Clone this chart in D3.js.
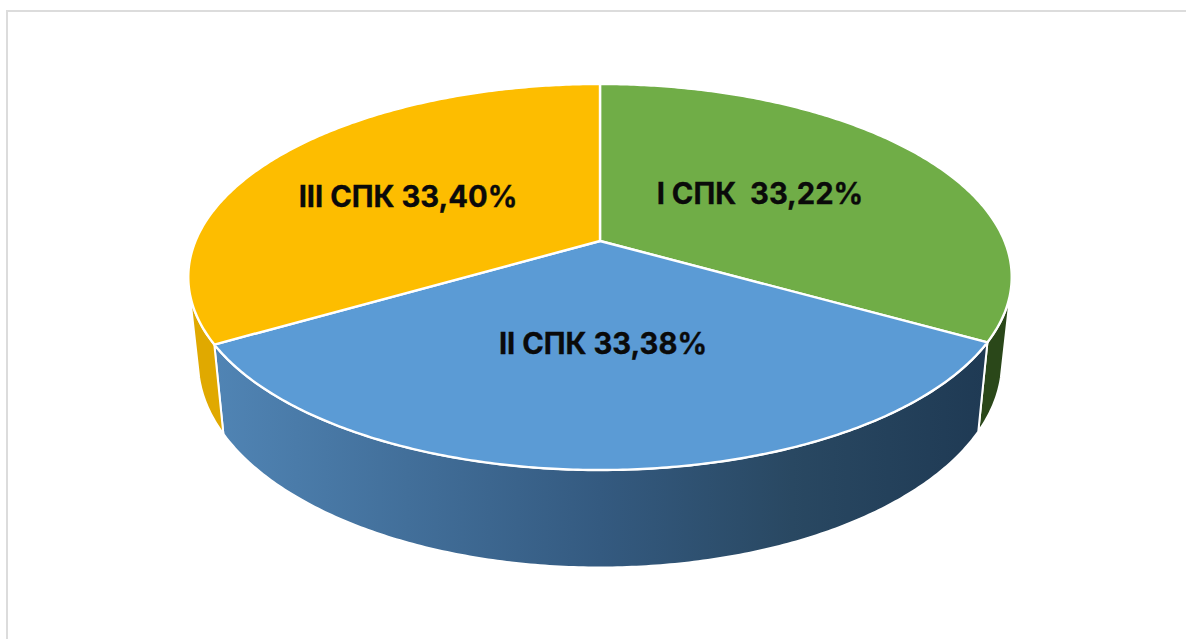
<!DOCTYPE html>
<html>
<head>
<meta charset="utf-8">
<script src="https://cdn.jsdelivr.net/npm/d3@7"></script>
<style>
html,body{margin:0;padding:0;background:#fff;overflow:hidden}
svg{display:block}
text{font-family:"Inter","Open Sans",sans-serif;font-weight:700;fill:#0a0a0a;stroke:#0a0a0a;stroke-width:0.35px}
</style>
</head>
<body>
<svg id="c" width="1186" height="639"></svg>
<script>
const categories = ["I СПК ", "II СПК", "III СПК"];
const values = [33.22, 33.38, 33.40];
const topColors = ["#70ad47", "#5b9bd5", "#fdbd00"];
const sideColors = ["#2a4719", "url(#blueSide)", "#e0a900"];
const labelCentres = [[760, 193], [603, 343], [408, 196]];

const W = 1186, H = 639;
const svg = d3.select("#c");

// Perspective projection of the pie disc (fitted to the picture)
const persp = 0.1865;
const cx = 600;
const topDisc = {y0: 241, sx: 404.5, sy: 186.3};
const botDisc = {y0: 323.5, sx: 395, sy: 198.5};
const project = (disc, a) => {
  const u = Math.sin(a), v = -Math.cos(a), w = 1 - persp * v;
  return [cx + disc.sx * u / w, disc.y0 + disc.sy * v / w];
};
const arcPts = (disc, a0, a1) => {
  const n = Math.max(2, Math.ceil(Math.abs(a1 - a0) / 0.01));
  const s = d3.scaleLinear().domain([0, n]).range([a0, a1]);
  return d3.range(n + 1).map(i => project(disc, s(i)));
};
const line = d3.line();

const pie = d3.pie().value(d => d).sort(null)(values);
// the side wall is visible between these angles (clockwise from the top)
const visible = [105 * Math.PI / 180, 255 * Math.PI / 180];

const defs = svg.append("defs");
const grad = defs.append("linearGradient").attr("id", "blueSide")
  .attr("gradientUnits", "userSpaceOnUse")
  .attr("x1", 215).attr("x2", 985).attr("y1", 0).attr("y2", 0);
[[0, "#5084b4"], [0.25, "#426f9a"], [0.5, "#345a80"], [0.75, "#294862"], [1, "#1f3a54"]]
  .forEach(([o, c]) => grad.append("stop").attr("offset", o).attr("stop-color", c));

// frame
svg.append("path").attr("d", `M7,${H}V11H${W}`).attr("fill", "none")
  .attr("stroke", "#dcdcdc").attr("stroke-width", 2);

// side walls
svg.append("g").selectAll("path").data(pie).join("path")
  .attr("d", d => {
    const a0 = Math.max(d.startAngle, visible[0]), a1 = Math.min(d.endAngle, visible[1]);
    return line([...arcPts(topDisc, a0, a1), ...arcPts(botDisc, a1, a0)]) + "Z";
  })
  .attr("fill", (d, i) => sideColors[i])
  .attr("stroke", "#fff").attr("stroke-width", 2).attr("stroke-linejoin", "round");

// top slices
svg.append("g").selectAll("path").data(pie).join("path")
  .attr("d", d => line([[cx, topDisc.y0], ...arcPts(topDisc, d.startAngle, d.endAngle)]) + "Z")
  .attr("fill", (d, i) => topColors[i])
  .attr("stroke", "#fff").attr("stroke-width", 2.4).attr("stroke-linejoin", "round");

// labels
const fmt = v => v.toFixed(2).replace(".", ",") + "%";
svg.append("g").selectAll("text").data(values).join("text")
  .attr("x", (d, i) => labelCentres[i][0])
  .attr("y", (d, i) => labelCentres[i][1] + 10.5)
  .attr("text-anchor", "middle")
  .attr("font-size", 29.2)
  .style("white-space", "pre")
  .text((d, i) => categories[i] + " " + fmt(d));
</script>
</body>
</html>
